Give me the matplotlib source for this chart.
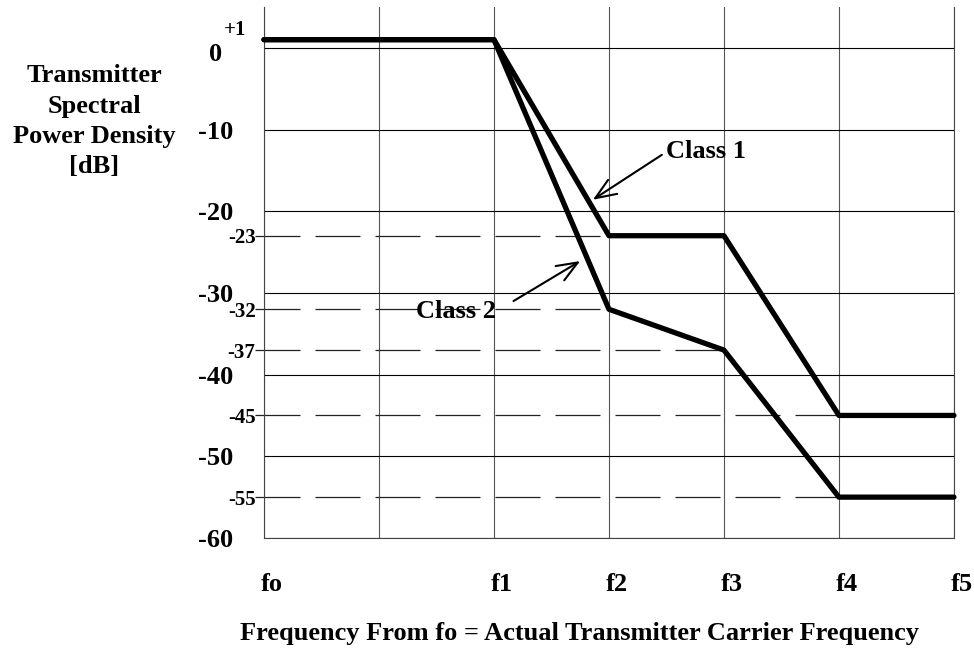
import matplotlib
matplotlib.use('Agg')
import matplotlib.pyplot as plt
import matplotlib.transforms as mtransforms

plt.rcParams['font.family'] = ['Liberation Serif', 'DejaVu Serif']
plt.rcParams['font.weight'] = 'bold'
plt.rcParams['axes.labelweight'] = 'bold'

# frequency grid positions (fo .. f5), one unlabelled column between fo and f1
freq_pos = [0, 1, 2, 3, 4, 5, 6]
freq_labels = ['fo', '', 'f1', 'f2', 'f3', 'f4', 'f5']

# mask break points: fo, f1, f2, f3, f4, f5
mask_x = [0, 2, 3, 4, 5, 6]
class1_db = [1, 1, -23, -23, -45, -45]
class2_db = [1, 1, -32, -37, -55, -55]

major_db = [0, -10, -20, -30, -40, -50, -60]
ref_db = [-23, -32, -37, -45, -55]
ref_end = [3, 3, 4, 5, 5]

fig = plt.figure(figsize=(9.74, 6.51), dpi=100)
ax = fig.add_axes([0.2710, 0.1736, 0.7084, 0.8157])
ax.set_xlim(0, 6)
ax.set_ylim(-60, 5)

for s in ['left', 'right', 'bottom']:
    ax.spines[s].set_linewidth(0.8)
    ax.spines[s].set_color('#444444')
ax.spines['top'].set_visible(False)

ax.set_xticks(freq_pos, freq_labels)
ax.set_yticks(major_db, [str(v) for v in major_db])
ax.set_yticks(ref_db, [str(v) for v in ref_db], minor=True)
ax.xaxis.grid(True, color='#555555', linewidth=0.8)
ax.yaxis.grid(True, which='major', color='black', linewidth=0.8)
ax.set_axisbelow(True)

ax.tick_params(axis='x', length=0, pad=25, labelsize=19)
ax.tick_params(axis='y', which='major', length=0, pad=22, labelsize=19)
ax.tick_params(axis='y', which='minor', length=0, pad=6, labelsize=15)
shift = lambda dx, dy: mtransforms.ScaledTranslation(dx / 100, dy / 100, fig.dpi_scale_trans)
for lab in ax.get_xticklabels():
    lab.set_transform(lab.get_transform() + shift(8, 0))
# the "0" sits a bit left and below its line in the original
zero_lab = ax.get_yticklabels()[0]
zero_lab.set_transform(zero_lab.get_transform() + shift(-11, -4))

# dashed reference levels
for lev, xe in zip(ref_db, ref_end):
    ax.plot([-0.08, xe], [lev, lev], color='#222222', linewidth=0.9,
            dashes=(36, 12), clip_on=False, zorder=2)

ax.plot(mask_x, class1_db, color='black', linewidth=3.8,
        solid_capstyle='round', zorder=4, clip_on=False)
ax.plot(mask_x, class2_db, color='black', linewidth=3.8,
        solid_capstyle='round', zorder=4, clip_on=False)

ax.text(-0.15, 2.2, '+1', fontsize=15, ha='right', va='center')

arrow = dict(arrowstyle='->,head_length=1.5,head_width=0.6', lw=1.5,
             color='black', shrinkA=0, shrinkB=0)
ax.annotate('', xy=(2.86, -18.6), xytext=(3.46, -13.1), arrowprops=arrow)
ax.text(3.50, -12.75, 'Class 1', fontsize=19, ha='left', va='center')
ax.annotate('', xy=(2.75, -26.1), xytext=(2.17, -31.0), arrowprops=arrow)
ax.text(1.32, -32.3, 'Class 2', fontsize=19, ha='left', va='center', zorder=5)

ax.set_xlabel('Frequency From fo = Actual Transmitter Carrier Frequency',
              fontsize=19, ha='center', va='top')
ax.xaxis.set_label_coords(0.458, -0.158)
ax.set_ylabel('Transmitter\nSpectral\nPower Density\n[dB]', fontsize=19,
              rotation=0, ha='center', va='center', linespacing=1.4)
ax.yaxis.set_label_coords(-0.246, 0.785)

fig.savefig('out.png', dpi=100)
